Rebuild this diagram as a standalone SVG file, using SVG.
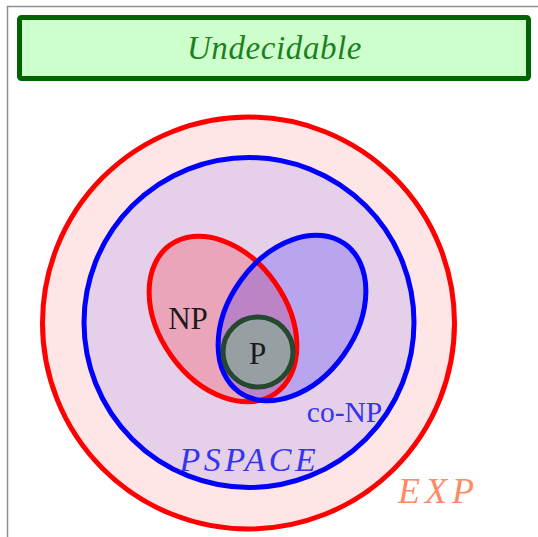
<svg xmlns="http://www.w3.org/2000/svg" width="538" height="537" viewBox="0 0 538 537">
<style>
text{font-family:'Liberation Serif','DejaVu Serif',serif;}
.it{font-style:italic;}
</style>
<rect x="0" y="0" width="538" height="537" fill="#ffffff"/>
<rect id="frame" x="7.5" y="6.5" width="545" height="545" fill="none" stroke="#8a8f93" stroke-width="1.5"/>
<g id="undecidable">
<rect x="19.5" y="17.5" width="509" height="61" rx="2" fill="#ccffcc" stroke="#006400" stroke-width="5"/>
<text class="it" x="274.5" y="58.5" font-size="33" letter-spacing="0.6" fill="#1e7f1e" text-anchor="middle">Undecidable</text>
</g>
<g id="exp">
<circle cx="248.5" cy="323" r="206" fill="#ffe5e5" stroke="#ff0000" stroke-width="5"/>
<text class="it" x="438.5" y="503" font-size="36" letter-spacing="5" fill="#ff8a65" text-anchor="middle">EXP</text>
</g>
<g id="pspace">
<circle cx="249" cy="322.5" r="165" fill="#e6cfe9" stroke="#0000ff" stroke-width="5"/>
<text class="it" x="249.5" y="471" font-size="34" letter-spacing="3.6" fill="#3535f0" text-anchor="middle">PSPACE</text>
</g>
<g id="np">
<ellipse cx="223" cy="319" rx="91" ry="63.5" transform="rotate(54.6 223 319)" fill="#ff0000" fill-opacity="0.2"/>
</g>
<g id="conp">
<ellipse cx="292" cy="318" rx="91" ry="63.5" transform="rotate(-54.6 292 318)" fill="#0000ff" fill-opacity="0.2"/>
</g>
<ellipse cx="223" cy="319" rx="91" ry="63.5" transform="rotate(54.6 223 319)" fill="none" stroke="#ff0000" stroke-width="5"/>
<ellipse cx="292" cy="318" rx="91" ry="63.5" transform="rotate(-54.6 292 318)" fill="none" stroke="#0000ff" stroke-width="5"/>
<text x="188" y="329" font-size="31" fill="#1a1a1a" text-anchor="middle">NP</text>
<text x="344.5" y="422" font-size="29.5" fill="#3535f0" text-anchor="middle">co-NP</text>
<g id="p">
<circle cx="258" cy="352" r="35" fill="#979fa2" stroke="#24492f" stroke-width="5"/>
<text x="257.5" y="364" font-size="31" fill="#1a1a1a" text-anchor="middle">P</text>
</g>
<g id="connectors"></g>
</svg>
